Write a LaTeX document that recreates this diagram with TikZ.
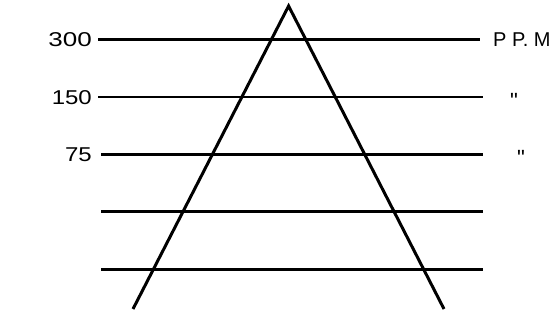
\documentclass[tikz,border=0pt]{standalone}
\usepackage{fontspec}
\setmainfont{Liberation Sans}
\newfontfamily\dittofont{Liberation Sans}
\begin{document}
\begin{tikzpicture}[x=1pt,y=-1pt,
  lvl/.style={line width=2.6pt},
  thinlvl/.style={line width=1.8pt},
  leg/.style={line width=3pt, line join=miter},
  lab/.style={font=\fontsize{20}{20}\selectfont, inner sep=0pt},
  ditto/.style={font=\dittofont\fontsize{22}{22}\selectfont, inner sep=0pt, anchor=north}]
\useasboundingbox (0,0) rectangle (558,322);
\coordinate (apex) at (288.6,6);
\coordinate (lb) at (133,309);
\coordinate (rb) at (444,309);
\coordinate (a1) at (98,39.5);  \coordinate (b1) at (480,39.5);
\coordinate (a2) at (98,97.3);  \coordinate (b2) at (483,97.3);
\coordinate (a3) at (101,154.3); \coordinate (b3) at (483,154.3);
\coordinate (a4) at (101,211.7); \coordinate (b4) at (483,211.7);
\coordinate (a5) at (101,269.3); \coordinate (b5) at (483,269.3);
\draw[lvl] (a1) -- (b1);
\draw[thinlvl] (a2) -- (b2);
\draw[lvl] (a3) -- (b3);
\draw[lvl] (a4) -- (b4);
\draw[lvl] (a5) -- (b5);
\draw[leg] (lb) -- (apex) -- (rb);
\node[lab, anchor=east] (l300) at (92,39.5) {\scalebox{1.3}[1]{300}};
\node[lab, anchor=east] (l150) at (92,97.3) {\scalebox{1.2}[1]{150}};
\node[lab, anchor=east] (l75) at (92,154.3) {\scalebox{1.2}[1]{75}};
\node[lab, anchor=west] (ppm) at (493,39.5) {P P. M};
\node[ditto] (d1) at (514,93) {"};
\node[ditto] (d2) at (521,150) {"};
\end{tikzpicture}
\end{document}
